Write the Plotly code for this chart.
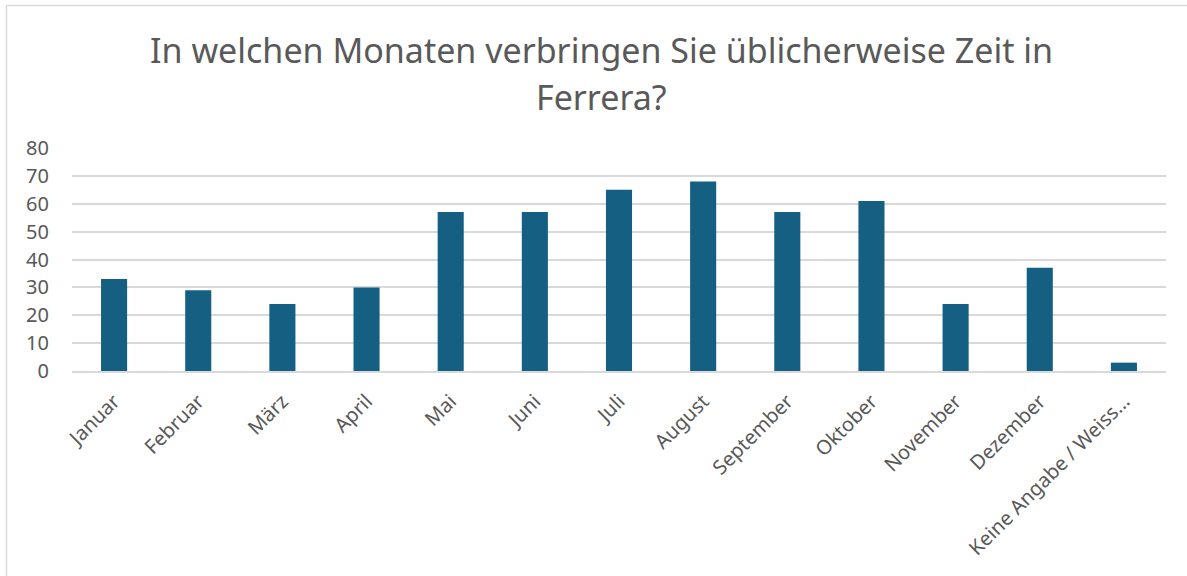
import plotly.graph_objects as go

categories = ["Januar", "Februar", "März", "April", "Mai", "Juni", "Juli", "August",
              "September", "Oktober", "November", "Dezember", "Keine Angabe / Weiss…"]
values = [33, 29, 24, 30, 57, 57, 65, 68, 57, 61, 24, 37, 3]
title_lines = ["In welchen Monaten verbringen Sie üblicherweise Zeit in", "Ferrera?"]

FONT = "Noto Sans"
GRAY = "#595959"

W, H = 1187, 576
L, R, T, B = 72, W - 1166, 148, H - 371

fig = go.Figure(go.Bar(x=categories, y=values, marker=dict(color="#156082", line=dict(width=0)),
                       width=0.31))

fig.update_layout(
    width=W, height=H,
    margin=dict(l=L, r=R, t=T, b=B),
    paper_bgcolor="white", plot_bgcolor="white",
    font=dict(family=FONT, color=GRAY),
    showlegend=False,
    xaxis=dict(tickangle=-45, tickfont=dict(size=20, color=GRAY), showgrid=False,
               showline=True, linecolor="#d9d9d9", linewidth=1.5, ticks="",
               ticklabelstandoff=9),
    yaxis=dict(range=[0, 80], dtick=10, tickfont=dict(size=20, color=GRAY),
               showgrid=True, gridcolor="#d9d9d9", gridwidth=1.5, zeroline=False,
               showline=False, ticks="", ticklabelstandoff=22),
)

pw = W - L - R
ph = H - T - B
ybase = H - B
for i, line in enumerate(title_lines):
    fig.add_annotation(text=line, xref="paper", yref="paper",
                       x=(601 - L) / pw, y=(ybase - [50, 97][i]) / ph,
                       xanchor="center", yanchor="middle", showarrow=False,
                       font=dict(size=34, color=GRAY, family=FONT))

# chart border
fig.add_shape(type="rect", xref="paper", yref="paper",
              x0=(6.5 - L) / pw, x1=(1200 - L) / pw,
              y0=(ybase - 700) / ph, y1=(ybase - 5.5) / ph,
              line=dict(color="#d9d9d9", width=1.5), fillcolor="rgba(0,0,0,0)", layer="below")

fig.write_html("out.html", config={"displayModeBar": False},
               post_script="document.body.style.margin='0';")
